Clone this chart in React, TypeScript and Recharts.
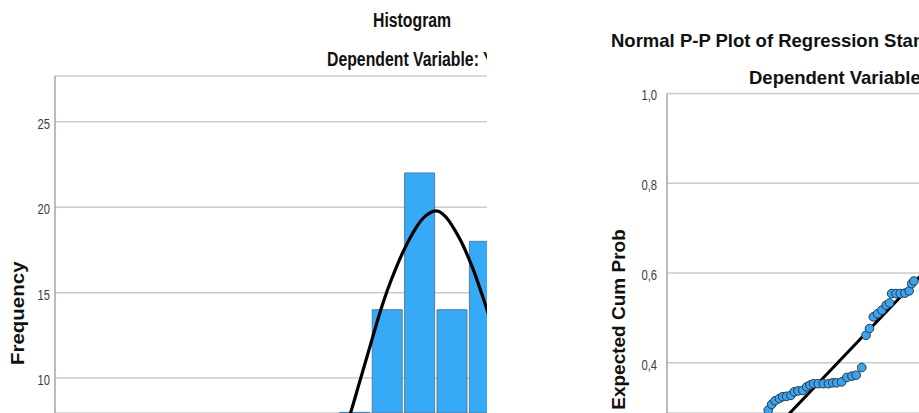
import React from 'react';
import { ComposedChart, Bar, Line, Scatter, XAxis, YAxis, CartesianGrid } from 'recharts';

// Histogram of regression standardized residuals (visible part)
const binCenters = [-1.25, -0.75, -0.25, 0.25, 0.75];
const binCounts = [8, 14, 22, 14, 18];
const freqTicks = [10, 15, 20, 25];

// Normal curve
const curveX = [-1.4, -1.3, -1.2, -1.1, -1.0, -0.9, -0.8, -0.7, -0.6, -0.5, -0.4, -0.3, -0.2, -0.1, 0.0, 0.1, 0.2, 0.3, 0.4, 0.5, 0.6, 0.7, 0.8, 0.9];
const curveY = [7.0, 8.2, 9.5, 10.8, 12.1, 13.4, 14.6, 15.65, 16.6, 17.45, 18.2, 18.85, 19.35, 19.65, 19.78, 19.62, 19.2, 18.6, 17.9, 17.05, 16.1, 15.0, 13.85, 12.6];

// Normal P-P plot (visible part)
const ppObserved = [0.237, 0.245, 0.253, 0.263, 0.271, 0.280, 0.290, 0.298, 0.307, 0.318, 0.327, 0.335, 0.343, 0.354, 0.366, 0.378, 0.388, 0.397, 0.409, 0.421, 0.433, 0.443, 0.456, 0.466, 0.474, 0.483, 0.493, 0.503, 0.513, 0.521, 0.526, 0.536, 0.546, 0.557, 0.567, 0.573, 0.578];
const ppExpected = [0.294, 0.307, 0.315, 0.320, 0.324, 0.325, 0.327, 0.335, 0.337, 0.338, 0.346, 0.350, 0.353, 0.353, 0.353, 0.353, 0.355, 0.355, 0.357, 0.367, 0.370, 0.372, 0.389, 0.461, 0.476, 0.502, 0.509, 0.517, 0.528, 0.533, 0.554, 0.554, 0.554, 0.555, 0.560, 0.576, 0.582];
const diagX = [0, 1];
const diagY = [0, 1];
const probTicks = [0.4, 0.6, 0.8, 1.0];

const histData = binCenters.map((x, i) => ({ x, count: binCounts[i] }));
const curveData = curveX.map((x, i) => ({ x, y: curveY[i] }));
const ppData = ppObserved.map((x, i) => ({ x, y: ppExpected[i] }));
const diagData = diagX.map((x, i) => ({ x, y: diagY[i] }));

const FONT = "'Liberation Sans', Arial, sans-serif";

const makeTick = (fmt: (v: number) => string) => (props: any) => {
  const { x, y, payload } = props;
  return (
    <text
      transform={`translate(${x},${y + 2}) scale(0.8,1)`}
      textAnchor="end"
      dy="0.355em"
      fontFamily={FONT}
      fontSize={14}
      fill="#3a3a3a"
    >
      {fmt(payload.value)}
    </text>
  );
};

const freqTick = makeTick((v) => String(v));
const probTick = makeTick((v) => v.toFixed(1).replace('.', ','));

const PPDot = (props: any) => {
  const { cx, cy } = props;
  return <circle cx={cx} cy={cy} r={4.3} fill="#3fa3ea" stroke="#1f3a55" strokeWidth={1} />;
};

export default function App() {
  return (
    <div style={{ position: 'fixed', left: 0, top: 0, width: 919, height: 413, background: '#fff', overflow: 'hidden', fontFamily: FONT }}>
      {/* Left panel: histogram */}
      <div style={{ position: 'absolute', left: 0, top: 0, width: 487, height: 413, overflow: 'hidden' }}>
        <ComposedChart width={487} height={413} data={histData} margin={{ top: 76, right: 0, bottom: 0, left: 0 }}>
          <CartesianGrid horizontal vertical={false} stroke="#cbcbcb" strokeWidth={1.5} />
          <XAxis xAxisId="bins" dataKey="x" type="number" domain={[-5.88, 0.787]} allowDataOverflow hide />
          <XAxis xAxisId="curve" dataKey="x" type="number" domain={[-5.88, 0.787]} allowDataOverflow hide />
          <YAxis
            type="number"
            domain={[7.96, 27.67]}
            allowDataOverflow
            ticks={freqTicks}
            width={55}
            tickSize={0}
            tickMargin={5}
            tickLine={false}
            axisLine={{ stroke: '#a5a5a5', strokeWidth: 1.5 }}
            tick={freqTick}
          />
          <Bar xAxisId="bins" dataKey="count" barSize={30} fill="#36a9f7" stroke="#557d9f" strokeWidth={1} isAnimationActive={false} />
          <Line xAxisId="curve" data={curveData} dataKey="y" type="natural" stroke="#000" strokeWidth={3.2} dot={false} activeDot={false} isAnimationActive={false} />
        </ComposedChart>
        <div style={{ position: 'absolute', left: 373, top: 10, fontSize: 20, lineHeight: '20px', fontWeight: 'bold', whiteSpace: 'nowrap', transform: 'scaleX(0.79)', transformOrigin: 'left top', color: '#111' }}>
          Histogram
        </div>
        <div style={{ position: 'absolute', left: 327, top: 48.5, fontSize: 20, lineHeight: '20px', fontWeight: 'bold', whiteSpace: 'nowrap', transform: 'scaleX(0.79)', transformOrigin: 'left top', color: '#111' }}>
          Dependent Variable: Y
        </div>
        <div style={{ position: 'absolute', left: 17.5 - 100, top: 313.7 - 10.25, width: 200, height: 20.5, fontSize: 20.5, lineHeight: '20.5px', fontWeight: 'bold', textAlign: 'center', whiteSpace: 'nowrap', transform: 'rotate(-90deg) scaleY(0.9)', transformOrigin: 'center', color: '#111' }}>
          Frequency
        </div>
      </div>

      {/* Right panel: Normal P-P plot */}
      <div style={{ position: 'absolute', left: 600, top: 0, width: 319, height: 413, overflow: 'hidden' }}>
        <ComposedChart width={319} height={413} margin={{ top: 93.5, right: 0, bottom: 0, left: 0 }}>
          <CartesianGrid horizontal vertical={false} stroke="#cbcbcb" strokeWidth={1.5} />
          <XAxis dataKey="x" type="number" domain={[0, 0.59]} allowDataOverflow hide />
          <YAxis
            type="number"
            domain={[0.2877, 1]}
            allowDataOverflow
            ticks={probTicks}
            width={67}
            tickSize={0}
            tickMargin={10}
            tickLine={false}
            axisLine={{ stroke: '#a5a5a5', strokeWidth: 1.5 }}
            tick={probTick}
          />
          <Scatter data={ppData} dataKey="y" shape={PPDot} isAnimationActive={false} />
          <Line data={diagData} dataKey="y" type="linear" stroke="#000" strokeWidth={3} dot={false} activeDot={false} isAnimationActive={false} />
        </ComposedChart>
      </div>
      <div style={{ position: 'absolute', left: 611, top: 32, fontSize: 18.5, lineHeight: '18.5px', fontWeight: 'bold', whiteSpace: 'nowrap', color: '#111' }}>
        Normal P-P Plot of Regression Standardized Residual
      </div>
      <div style={{ position: 'absolute', left: 749, top: 69, fontSize: 18.5, lineHeight: '18.5px', fontWeight: 'bold', whiteSpace: 'nowrap', color: '#111' }}>
        Dependent Variable: Y
      </div>
      <div style={{ position: 'absolute', left: 618 - 110, top: 319.5 - 9.5, width: 220, height: 19, fontSize: 19, lineHeight: '19px', fontWeight: 'bold', textAlign: 'center', whiteSpace: 'nowrap', transform: 'rotate(-90deg)', transformOrigin: 'center', color: '#111' }}>
        Expected Cum Prob
      </div>
    </div>
  );
}
